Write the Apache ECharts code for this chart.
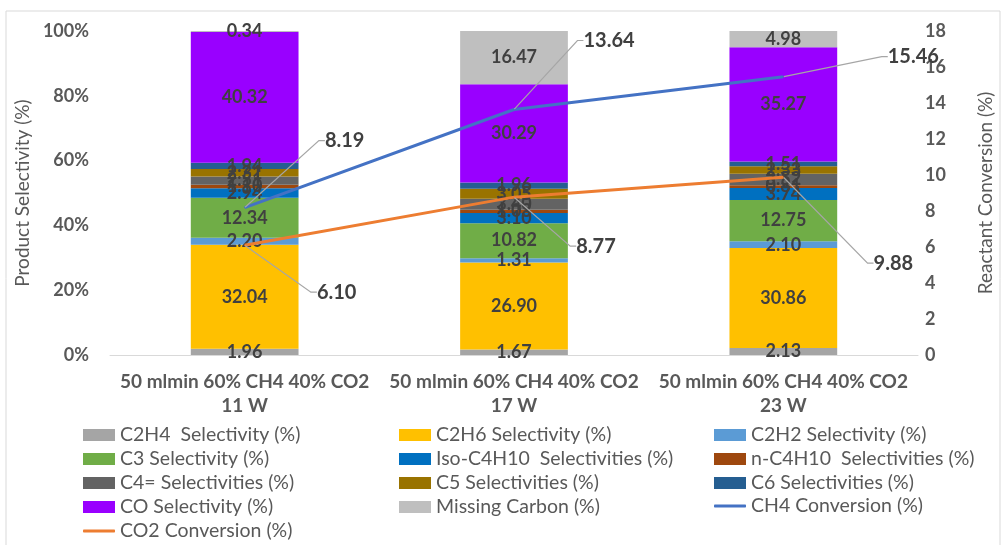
<!DOCTYPE html>
<html>
<head>
<meta charset="utf-8">
<script src="https://cdn.jsdelivr.net/npm/echarts@6/dist/echarts.min.js"></script>
<style>
  html, body { margin: 0; padding: 0; background: #fff; }
  #chart { width: 1003px; height: 545px; }
</style>
</head>
<body>
<div id="chart"></div>
<script>
// Operating conditions (one stacked bar per plasma power)
const categories = [
  '50 mlmin 60% CH4 40% CO2\n11 W',
  '50 mlmin 60% CH4 40% CO2\n17 W',
  '50 mlmin 60% CH4 40% CO2\n23 W'
];

// Product selectivities (%), stacked bottom to top
const c2h4Sel    = [1.96, 1.67, 2.13];
const c2h6Sel    = [32.04, 26.90, 30.86];
const c2h2Sel    = [2.20, 1.31, 2.10];
const c3Sel      = [12.34, 10.82, 12.75];
const isoC4h10   = [2.94, 3.10, 3.74];
const nC4h10     = [1.10, 1.03, 0.81];
const c4eneSel   = [2.51, 3.40, 3.52];
const c5Sel      = [2.31, 3.05, 2.33];
const c6Sel      = [1.94, 1.96, 1.51];
const coSel      = [40.32, 30.29, 35.27];
const missingC   = [0.34, 16.47, 4.98];

// Reactant conversions (%), right axis
const ch4Conv = [8.19, 13.64, 15.46];
const co2Conv = [6.10, 8.77, 9.88];

// Axis ticks
const leftTicks  = { min: 0, max: 100, interval: 20 };
const rightTicks = { min: 0, max: 18, interval: 2 };

const FONT = 'Lato';
const TEXT = '#595959';

const barSeries = [
  ['C2H4  Selectivity (%)', c2h4Sel, '#A5A5A5'],
  ['C2H6 Selectivity (%)', c2h6Sel, '#FFC000'],
  ['C2H2 Selectivity (%)', c2h2Sel, '#5B9BD5'],
  ['C3 Selectivity (%)', c3Sel, '#70AD47'],
  ['Iso-C4H10  Selectivities (%)', isoC4h10, '#0070C0'],
  ['n-C4H10  Selectivities (%)', nC4h10, '#9E480E'],
  ['C4= Selectivities (%)', c4eneSel, '#636363'],
  ['C5 Selectivities (%)', c5Sel, '#997300'],
  ['C6 Selectivities (%)', c6Sel, '#255E91'],
  ['CO Selectivity (%)', coSel, '#9900FF'],
  ['Missing Carbon (%)', missingC, '#BFBFBF']
].map(([name, data, color]) => ({
  name,
  type: 'bar',
  stack: 'sel',
  barWidth: '40%',
  data,
  itemStyle: { color },
  label: {
    show: true,
    position: 'inside',
    formatter: p => p.value.toFixed(2),
    color: '#404040',
    fontFamily: FONT,
    fontSize: 18,
    fontWeight: 'bold'
  }
}));

// Offsets of the conversion call-outs from their points
const ch4LabelShift = [[100, -67], [95, -69], [130, -20]];
const co2LabelShift = [[92, 47], [82, 49], [110, 86]];

function lineSeries(name, data, color, shifts) {
  return {
    name,
    type: 'line',
    yAxisIndex: 1,
    data,
    z: 5,
    symbol: 'circle',
    symbolSize: 1,
    itemStyle: { color },
    lineStyle: { color, width: 3 },
    label: {
      show: true,
      position: 'inside',
      formatter: p => p.value.toFixed(2),
      color: '#404040',
      fontFamily: FONT,
      fontSize: 20,
      fontWeight: 'bold'
    },
    labelLine: {
      show: true,
      length2: 6,
      lineStyle: { color: '#A6A6A6', width: 1.2 }
    },
    labelLayout: p => ({ dx: shifts[p.dataIndex][0], dy: shifts[p.dataIndex][1] })
  };
}

const legendText = { fontFamily: FONT, fontSize: 19.5, color: TEXT, lineHeight: 18 };
function rectLegend(left, top, names) {
  return {
    orient: 'vertical', left, top,
    itemWidth: 32, itemHeight: 12, itemGap: 4,
    icon: 'rect',
    textStyle: legendText,
    data: names
  };
}
function lineLegend(left, top, names) {
  return {
    orient: 'vertical', left, top,
    itemWidth: 32, itemHeight: 3, itemGap: 4,
    icon: 'roundRect',
    textStyle: legendText,
    data: names
  };
}

const option = {
  animation: false,
  backgroundColor: '#fff',
  graphic: [{
    type: 'rect',
    shape: { x: 6, y: 11, width: 994, height: 560 },
    style: { fill: 'none', stroke: '#D9D9D9', lineWidth: 1 },
    silent: true
  }],
  grid: { left: 110, right: 66, top: 31, bottom: 190 },
  legend: [
    rectLegend(78, 420, ['C2H4  Selectivity (%)', 'C3 Selectivity (%)', 'C4= Selectivities (%)', 'CO Selectivity (%)']),
    rectLegend(394, 420, ['C2H6 Selectivity (%)', 'Iso-C4H10  Selectivities (%)', 'C5 Selectivities (%)', 'Missing Carbon (%)']),
    rectLegend(709, 420, ['C2H2 Selectivity (%)', 'n-C4H10  Selectivities (%)', 'C6 Selectivities (%)']),
    lineLegend(709, 491, ['CH4 Conversion (%)']),
    lineLegend(78, 516, ['CO2 Conversion (%)'])
  ],
  xAxis: {
    type: 'category',
    data: categories,
    axisLine: { lineStyle: { color: '#D9D9D9', width: 1 } },
    axisTick: { show: false },
    axisLabel: {
      interval: 0,
      margin: 15,
      fontFamily: FONT, fontSize: 19, fontWeight: 'bold',
      color: TEXT, lineHeight: 24
    }
  },
  yAxis: [{
    type: 'value',
    min: leftTicks.min, max: leftTicks.max, interval: leftTicks.interval,
    name: 'Product Selectivity (%)',
    nameLocation: 'middle',
    nameRotate: 90,
    nameGap: 74,
    nameTextStyle: { fontFamily: FONT, fontSize: 19, color: TEXT },
    axisLine: { show: false },
    axisTick: { show: false },
    splitLine: { show: false },
    axisLabel: {
      formatter: '{value}%',
      margin: 21,
      fontFamily: FONT, fontSize: 18, fontWeight: 'bold', color: TEXT
    }
  }, {
    type: 'value',
    position: 'right',
    min: rightTicks.min, max: rightTicks.max, interval: rightTicks.interval,
    name: 'Reactant Conversion (%)',
    nameLocation: 'middle',
    nameRotate: 90,
    nameGap: 58,
    nameTextStyle: { fontFamily: FONT, fontSize: 19, color: TEXT },
    axisLine: { show: false },
    axisTick: { show: false },
    splitLine: { show: false },
    axisLabel: {
      margin: 7,
      fontFamily: FONT, fontSize: 18, fontWeight: 'bold', color: TEXT
    }
  }],
  series: [
    ...barSeries,
    lineSeries('CH4 Conversion (%)', ch4Conv, '#4472C4', ch4LabelShift),
    lineSeries('CO2 Conversion (%)', co2Conv, '#ED7D31', co2LabelShift)
  ]
};

const chart = echarts.init(document.getElementById('chart'), null, { renderer: 'canvas' });
chart.setOption(option);
</script>
</body>
</html>
